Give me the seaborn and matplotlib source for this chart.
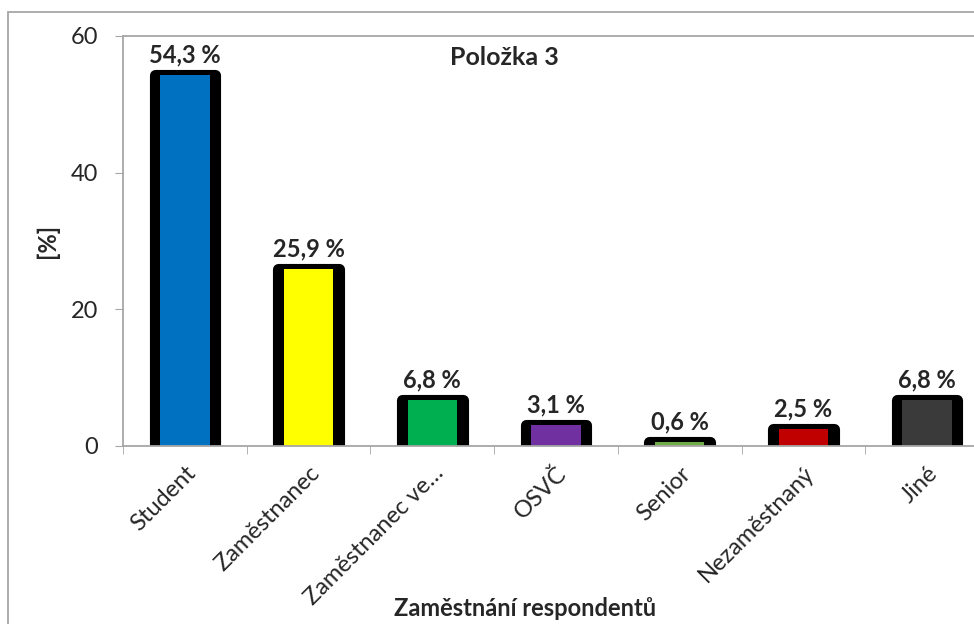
import matplotlib
matplotlib.use("Agg")
import matplotlib.pyplot as plt
from matplotlib.patches import Rectangle
from matplotlib.ticker import FixedLocator
import pandas as pd
import seaborn as sns

categories = ["Student", "Zaměstnanec", "Zaměstnanec ve…", "OSVČ", "Senior",
              "Nezaměstnaný", "Jiné"]
values = [54.3, 25.9, 6.8, 3.1, 0.6, 2.5, 6.8]
colors = ["#0070C0", "#FFFF00", "#00B050", "#7030A0", "#70AD47", "#C00000", "#3A3A3A"]
y_ticks = [0, 20, 40, 60]

sns.set_style("white")
plt.rcParams["font.family"] = ["Lato", "DejaVu Sans"]

df = pd.DataFrame({"kategorie": categories, "podil": values})

W, H = 974, 624
fig = plt.figure(figsize=(W / 100, H / 100), dpi=100)
ax = fig.add_axes([123 / W, (H - 446) / H, (989 - 123) / W, (446 - 36) / H])

# black outline layer (thick rounded border)
sns.barplot(data=df, x="kategorie", y="podil", color="black", order=categories,
            width=0.49, saturation=1, ax=ax)
for p in ax.patches:
    p.set_edgecolor("black")
    p.set_linewidth(8)
    p.set_joinstyle("round")

# coloured fill on top
sns.barplot(data=df, x="kategorie", y="podil", hue="kategorie", palette=colors,
            order=categories, hue_order=categories, legend=False, width=0.40,
            saturation=1, linewidth=0, ax=ax)

labels = [f"{v:.1f} %".replace(".", ",") for v in values]
for i, v in enumerate(values):
    ax.annotate(labels[i], (i, v), xytext=(0, 6), textcoords="offset points",
                ha="center", va="bottom", fontsize=17, fontweight="bold")

ax.set_ylim(0, 60)
ax.set_xlim(-0.5, len(categories) - 0.5)
ax.set_yticks(y_ticks)
ax.tick_params(axis="y", direction="out", length=6, color="#A6A6A6",
               labelsize=17, pad=12, left=True)

ax.set_xticks(range(len(categories)))
ax.set_xticklabels(categories, rotation=45, ha="right", rotation_mode="anchor",
                   fontsize=17)
ax.tick_params(axis="x", which="major", length=0, pad=12)
ax.xaxis.set_minor_locator(FixedLocator([i - 0.5 for i in range(len(categories) + 1)]))
ax.tick_params(axis="x", which="minor", direction="out", length=6,
               color="#A6A6A6", bottom=True)

for side in ["left", "bottom", "top"]:
    ax.spines[side].set_color("#A6A6A6")
    ax.spines[side].set_linewidth(1.3)
ax.spines["right"].set_visible(False)

ax.set_xlabel("")
ax.set_ylabel("[%]", fontsize=17, fontweight="bold", labelpad=8)
ax.set_title("Položka 3", fontsize=18, fontweight="bold", y=0.91, x=0.44)
fig.text(525 / W, 1 - 608 / H, "Zaměstnání respondentů", ha="center", va="center",
         fontsize=17, fontweight="bold")

fig.patches.append(Rectangle((8 / W, -0.1), 1.2, (H - 12) / H + 0.1,
                             transform=fig.transFigure, fill=False,
                             edgecolor="#A6A6A6", linewidth=1.3))

fig.savefig("out.png", dpi=100)
